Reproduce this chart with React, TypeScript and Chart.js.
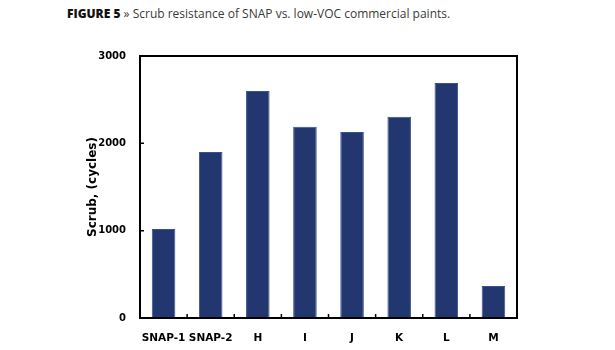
import React, { useEffect, useRef } from "react";
import { Chart, registerables } from "chart.js";

Chart.register(...registerables);

const categories = ["SNAP-1", "SNAP-2", "H", "I", "J", "K", "L", "M"];
const scrubCycles = [1020, 1900, 2600, 2190, 2130, 2305, 2690, 365];
const yTicks = [0, 1000, 2000, 3000];

const frameAndTicks = {
  id: "frameAndTicks",
  afterDraw(chart: any) {
    const { ctx, chartArea } = chart;
    const x = chart.scales.x;
    const y = chart.scales.y;
    ctx.save();
    ctx.strokeStyle = "#000";
    ctx.lineWidth = 2;
    ctx.strokeRect(chartArea.left, chartArea.top, chartArea.right - chartArea.left, chartArea.bottom - chartArea.top);
    ctx.lineWidth = 1.5;
    ctx.beginPath();
    for (const v of yTicks) {
      const py = y.getPixelForValue(v);
      ctx.moveTo(chartArea.left, py);
      ctx.lineTo(chartArea.left + 4, py);
    }
    for (let i = 0; i < categories.length - 1; i++) {
      const px = (x.getPixelForValue(i) + x.getPixelForValue(i + 1)) / 2;
      ctx.moveTo(px, chartArea.bottom);
      ctx.lineTo(px, chartArea.bottom - 4);
    }
    ctx.stroke();
    ctx.restore();
  },
};

export default function App() {
  const ref = useRef<HTMLCanvasElement | null>(null);
  useEffect(() => {
    if (!ref.current) return;
    const chart = new Chart(ref.current, {
      type: "bar",
      data: {
        labels: categories,
        datasets: [
          {
            data: scrubCycles,
            backgroundColor: "#22376f",
            borderColor: "#3a5190",
            borderWidth: 1,
            barPercentage: 0.5,
            categoryPercentage: 1,
          },
        ],
      },
      options: {
        animation: false,
        responsive: false,
        maintainAspectRatio: false,
        layout: { padding: { left: 0, right: 98, top: 56, bottom: 0 } },
        plugins: { legend: { display: false }, tooltip: { enabled: false }, title: { display: false } },
        scales: {
          x: {
            grid: { display: false },
            border: { display: false },
            ticks: {
              color: "#000",
              font: { family: "DejaVu Sans", weight: "bold", size: 10.5 },
              padding: 6,
              maxRotation: 0,
              autoSkip: false,
            },
            afterFit(scale: any) {
              scale.height = 32;
            },
          },
          y: {
            min: 0,
            max: 3000,
            grid: { display: false },
            border: { display: false },
            afterBuildTicks(scale: any) {
              scale.ticks = yTicks.map((v) => ({ value: v }));
            },
            ticks: {
              color: "#000",
              font: { family: "DejaVu Sans", weight: "bold", size: 10 },
              padding: 6,
              callback: (v: any) => String(v),
            },
            title: {
              display: true,
              text: "Scrub, (cycles)",
              color: "#000",
              font: { family: "DejaVu Sans", weight: "bold", size: 12 },
              padding: { top: 86, bottom: 0 },
            },
            afterFit(scale: any) {
              scale.width = 140;
            },
          },
        },
      },
      plugins: [frameAndTicks],
    });
    return () => chart.destroy();
  }, []);
  return (
    <div style={{ position: "fixed", left: 0, top: 0, width: 615, height: 350, background: "#fff" }}>
      <div
        style={{
          position: "absolute",
          left: 67,
          top: 5,
          fontFamily: "'Open Sans', sans-serif",
          fontSize: 12,
          lineHeight: "18px",
          color: "#3a3a3a",
          whiteSpace: "nowrap",
        }}
      >
        <span style={{ fontWeight: 800, color: "#111" }}>FIGURE 5</span> » Scrub resistance of SNAP vs. low-VOC commercial paints.
      </div>
      <canvas ref={ref} width={615} height={350} style={{ position: "absolute", left: 0, top: 0, display: "block" }} />
    </div>
  );
}
